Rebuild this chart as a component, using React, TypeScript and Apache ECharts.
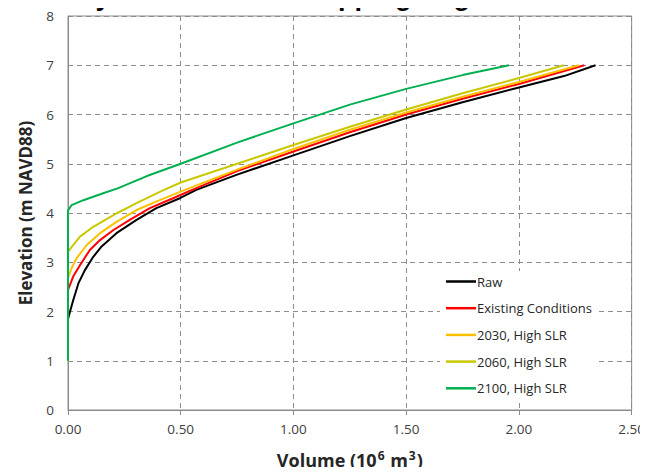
import React, { useEffect, useRef } from "react";
import * as echarts from "echarts";

const titleText = "Sub-bay Volume of Overlapping Region in Suisun Bay";
const seriesNames = ["Raw", "Existing Conditions", "2030, High SLR", "2060, High SLR", "2100, High SLR"];
const seriesColors = ["#000000", "#FF0000", "#FFC000", "#C8C800", "#00B050"];

const rawVol = [0, 0, 0.006, 0.023, 0.046, 0.075, 0.112, 0.149, 0.215, 0.304, 0.392, 0.496, 0.569, 0.75, 1.0, 1.25, 1.5, 1.75, 2.0, 2.2, 2.34];
const rawElev = [1, 1.85, 1.95, 2.23, 2.57, 2.84, 3.11, 3.32, 3.59, 3.86, 4.1, 4.3, 4.47, 4.78, 5.17, 5.56, 5.93, 6.25, 6.55, 6.78, 7.0];

const existVol = [0, 0, 0.023, 0.053, 0.097, 0.142, 0.2, 0.274, 0.363, 0.466, 0.54, 0.75, 1.0, 1.25, 1.5, 1.75, 2.0, 2.29];
const existElev = [1, 2.44, 2.71, 2.94, 3.25, 3.45, 3.65, 3.86, 4.1, 4.3, 4.45, 4.85, 5.25, 5.64, 6.0, 6.32, 6.62, 7.0];

const y2030Vol = [0, 0, 0.016, 0.038, 0.083, 0.142, 0.215, 0.304, 0.407, 0.496, 0.75, 1.0, 1.25, 1.5, 1.75, 2.0, 2.265];
const y2030Elev = [1, 2.68, 2.88, 3.08, 3.35, 3.59, 3.82, 4.06, 4.26, 4.43, 4.88, 5.3, 5.69, 6.04, 6.36, 6.66, 7.0];

const y2060Vol = [0, 0, 0.023, 0.053, 0.112, 0.215, 0.304, 0.407, 0.5, 0.75, 1.0, 1.25, 1.5, 1.75, 2.0, 2.2];
const y2060Elev = [1, 3.21, 3.35, 3.52, 3.72, 3.99, 4.2, 4.43, 4.62, 5.0, 5.38, 5.75, 6.1, 6.43, 6.74, 7.0];

const y2100Vol = [0, 0, 0.016, 0.068, 0.156, 0.22, 0.35, 0.5, 0.75, 1.0, 1.25, 1.5, 1.75, 1.956];
const y2100Elev = [1, 4.05, 4.16, 4.26, 4.4, 4.5, 4.75, 5.0, 5.43, 5.82, 6.2, 6.52, 6.8, 7.0];

const seriesVols = [rawVol, existVol, y2030Vol, y2060Vol, y2100Vol];
const seriesElevs = [rawElev, existElev, y2030Elev, y2060Elev, y2100Elev];

const FONT = "'Open Sans', 'Noto Sans', sans-serif";

export default function App() {
  const ref = useRef<HTMLDivElement>(null);
  useEffect(() => {
    if (!ref.current) return;
    const chart = echarts.init(ref.current, null, { renderer: "svg" });
    const series = seriesNames.map((name, i) => ({
      name,
      type: "line",
      symbol: "none",
      smooth: false,
      data: seriesVols[i].map((v, j) => [v, seriesElevs[i][j]]),
      lineStyle: { color: seriesColors[i], width: 2 },
      itemStyle: { color: seriesColors[i] },
      z: 2 + i,
    }));
    chart.setOption({
      animation: false,
      backgroundColor: "#ffffff",
      graphic: [
        {
          type: "text",
          x: 4,
          y: -18,
          z: 100,
          style: {
            text: titleText,
            font: "bold 27px 'Liberation Sans', Arial, sans-serif",
            fill: "#000000",
          },
        },
      ],
      grid: {
        left: 68,
        right: 16,
        top: 16,
        bottom: 65,
        show: true,
        borderColor: "#8c8c8c",
        borderWidth: 1,
      },
      legend: {
        orient: "vertical",
        left: 440,
        top: 271,
        data: seriesNames,
        icon: "rect",
        itemWidth: 30,
        itemHeight: 2.5,
        itemGap: 13.7,
        backgroundColor: "#ffffff",
        padding: [4, 6, 4, 6],
        textStyle: { fontFamily: FONT, fontSize: 13, color: "#262626", padding: [0, 0, 0, -4] },
      },
      xAxis: {
        type: "value",
        min: 0,
        max: 2.5,
        interval: 0.5,
        name: "{a|Volume (10}{sup|6}{a| m}{sup|3}{a|)}",
        nameLocation: "middle",
        nameGap: 39,
        nameTextStyle: {
          rich: {
            a: { fontFamily: FONT, fontSize: 18, fontWeight: "bold", color: "#262626", lineHeight: 22 },
            sup: { fontFamily: FONT, fontSize: 12, fontWeight: "bold", color: "#262626", verticalAlign: "top", lineHeight: 12, padding: [0, 1, 0, 1] },
          },
        },
        axisLine: { show: true, lineStyle: { color: "#8c8c8c", width: 1 } },
        axisTick: { show: true, inside: false, length: 5, lineStyle: { color: "#8c8c8c" } },
        axisLabel: {
          fontFamily: FONT,
          fontSize: 13.5,
          color: "#404040",
          margin: 12,
          formatter: (v: number) => v.toFixed(2),
        },
        splitLine: { show: true, lineStyle: { color: "#8c8c8c", type: [5, 4], width: 1 } },
      },
      yAxis: {
        type: "value",
        min: 0,
        max: 8,
        interval: 1,
        name: "Elevation (m NAVD88)",
        nameLocation: "middle",
        nameGap: 34,
        nameTextStyle: { fontFamily: FONT, fontSize: 17, fontWeight: "bold", color: "#262626" },
        axisLine: { show: true, lineStyle: { color: "#8c8c8c", width: 1 } },
        axisTick: { show: false },
        axisLabel: { fontFamily: FONT, fontSize: 13.5, color: "#404040", margin: 14 },
        splitLine: { show: true, lineStyle: { color: "#8c8c8c", type: [5, 4], width: 1 } },
      },
      series,
    });
    return () => chart.dispose();
  }, []);
  return <div ref={ref} style={{ width: 648, height: 475, margin: -8 }} />;
}
